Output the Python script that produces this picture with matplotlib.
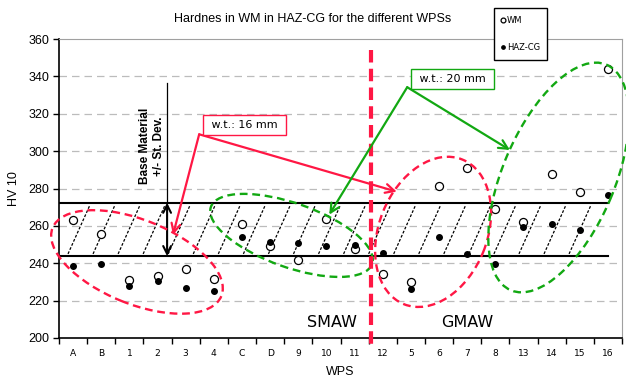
import numpy as np
import matplotlib
matplotlib.use("Agg")
import matplotlib.pyplot as plt
import matplotlib.transforms as mtransforms
from matplotlib.patches import Ellipse

# data
wps = ['A', 'B', '1', '2', '3', '4', 'C', 'D', '9', '10', '11',
       '12', '5', '6', '7', '8', '13', '14', '15', '16']
hv_wm = [263, 255.5, 231, 233, 237, 231.5, 261, 249, 242, 263.5, 247.5,
         234.5, 230, 281.5, 291, 269, 262, 288, 278, 344]
hv_haz = [238.7, 239.7, 228, 230.5, 226.8, 225.2, 253.8, 251.6, 250.9, 249.1, 249.8,
          245.7, 226.3, 253.9, 244.8, 239.6, 259.5, 260.9, 257.7, 276.4]
base_mean = 258.1
base_sd = 14.3

red = '#ff1744'
green = '#12a812'

plt.rcParams['font.family'] = ['Liberation Sans', 'DejaVu Sans']

fig = plt.figure(figsize=(6.26, 3.81), dpi=100)
ax = fig.add_axes([59/626, 1-338/381, 563/626, 299/381])

x = np.arange(len(wps))
ax.set_xlim(-0.5, len(wps)-0.5)
ax.set_ylim(200, 360)

# grid + spines
ax.set_yticks(np.arange(200, 361, 20))
for yv in np.arange(220, 360, 20):
    ax.axhline(yv, color='#bcbcbc', lw=0.9, dashes=(6, 4), zorder=0)
ax.spines['top'].set_color('#a0a0a0')
ax.spines['right'].set_color('#a0a0a0')
ax.spines['left'].set_linewidth(1.2)
ax.spines['bottom'].set_linewidth(1.2)

ax.set_xticks(x)
ax.set_xticklabels(wps, family='DejaVu Sans', fontsize=6.6)
ax.set_xticks(np.arange(-0.5, len(wps)), minor=True)
ax.tick_params(axis='x', which='major', length=0, pad=8)
ax.tick_params(axis='x', which='minor', length=4, direction='out', width=1)
ax.tick_params(axis='y', length=4, direction='out', width=1, labelsize=9, pad=3)

# base material band with slanted dashed hatching
lo, hi = base_mean - base_sd, base_mean + base_sd
ax.plot([-0.5, 19], [hi, hi], color='black', lw=1.5, zorder=2)
ax.plot([-0.5, 19], [lo, lo], color='black', lw=1.5, zorder=2)
step = 0.89
dx = 0.78
gap = 1.2
x0 = -0.18
while x0 + dx <= 19.05:
    ax.plot([x0, x0+dx], [lo+gap, hi-gap], color='black', lw=0.9,
            dashes=(2.2, 1.4), zorder=1)
    x0 += step

# data points
wm_line, = ax.plot(x, hv_wm, 'o', mfc='white', mec='black', mew=0.9, ms=5.8,
                   ls='none', zorder=4, label='WM')
haz_line, = ax.plot(x, hv_haz, 'o', color='black', ms=4, ls='none', zorder=4,
                    label='HAZ-CG')

# base material marker
ax.plot([3.34, 3.34], [336.5, hi], color='black', lw=0.9, zorder=3)
ax.annotate('', xy=(3.34, lo), xytext=(3.34, hi),
            arrowprops=dict(arrowstyle='<->', color='black', lw=1.5,
                            mutation_scale=14, shrinkA=0, shrinkB=0), zorder=3)
ax.text(2.8, 302.8, 'Base Material\n+/- St. Dev.', rotation=90, ha='center',
        va='center', fontsize=8.5, fontweight='bold', linespacing=1.2)


# ellipses drawn in pixel units around a data centre
def ring(cx, cy, w, h, ang, color):
    tr = mtransforms.ScaledTranslation(cx, cy, ax.transData)
    e = Ellipse((0, 0), w, h, angle=ang, transform=tr, fill=False,
                edgecolor=color, lw=1.7, linestyle=(0, (3.3, 2)),
                clip_on=False, zorder=5)
    ax.add_patch(e)


ring(2.27, 240.7, 182, 84, -22, red)
ring(7.76, 254.9, 171, 64, -19.5, green)
ring(12.79, 256.8, 156, 108, 68, red)
ring(17.25, 285.9, 245, 112, 67, green)

# process split
ax.plot([10.58, 10.58], [354, 196.4], color=red, lw=3, dashes=(3, 1.5),
        clip_on=False, zorder=6)
ax.text(9.2, 208.5, 'SMAW', family='DejaVu Sans', fontsize=11.5,
        ha='center', va='center')
ax.text(14.0, 208.5, 'GMAW', family='DejaVu Sans', fontsize=11.5,
        ha='center', va='center')

# wall thickness callouts
arr = dict(arrowstyle='->', lw=1.6, mutation_scale=16, shrinkA=0, shrinkB=0)
for tgt in [(3.55, 255.2), (11.5, 278.3)]:
    ax.annotate('', xy=tgt, xytext=(4.48, 309), zorder=6,
                arrowprops=dict(arr, color=red))
for tgt in [(9.1, 266), (15.52, 300.6)]:
    ax.annotate('', xy=tgt, xytext=(11.87, 334.2), zorder=6,
                arrowprops=dict(arr, color=green))
ax.text(6.09, 314, ' w.t.: 16 mm ', family='DejaVu Sans', fontsize=8,
        ha='center', va='center', zorder=7,
        bbox=dict(boxstyle='square,pad=0.45', fc='white', ec=red, lw=1))
ax.text(13.49, 338.6, ' w.t.: 20 mm ', family='DejaVu Sans', fontsize=8,
        ha='center', va='center', zorder=7,
        bbox=dict(boxstyle='square,pad=0.45', fc='white', ec=green, lw=1))

ax.set_ylabel('HV 10', fontsize=9, labelpad=6)
ax.set_xlabel('WPS', fontsize=9, labelpad=6)
fig.text(0.5, 1-19/381, 'Hardnes in WM in HAZ-CG for the different WPSs',
         ha='center', va='center', fontsize=9)

leg = fig.legend(handles=[wm_line, haz_line], loc='upper left',
                 bbox_to_anchor=(490/626, 1-4/381),
                 prop={'family': 'DejaVu Sans', 'size': 6},
                 markerscale=0.6, handlelength=0.4, handletextpad=0.2,
                 labelspacing=2.2, borderpad=0.9, fancybox=False,
                 edgecolor='black', framealpha=1)
leg.get_frame().set_linewidth(1)

fig.savefig('out.png', dpi=100)
